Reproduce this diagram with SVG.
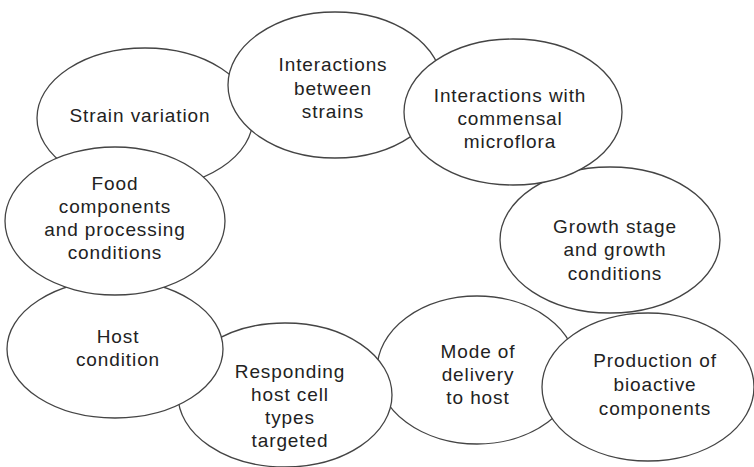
<svg xmlns="http://www.w3.org/2000/svg" width="754" height="467" viewBox="0 0 754 467">
<style>
.n ellipse{fill:#fff;stroke:#444;stroke-width:1.3}
.n text{font-family:"Liberation Sans",Arial,sans-serif;font-size:19px;letter-spacing:0.9px;fill:#222;text-anchor:middle}
</style>
<rect width="754" height="467" fill="#fff"/>
<g id="connectors"></g>
<g id="growth" class="n"><ellipse cx="610" cy="240" rx="110" ry="73"/><text x="615" y="233">Growth stage</text><text x="615" y="256">and growth</text><text x="615" y="280">conditions</text></g>
<g id="strain" class="n"><ellipse cx="145" cy="118" rx="108" ry="70"/><text x="140" y="122">Strain variation</text></g>
<g id="between" class="n"><ellipse cx="335" cy="85" rx="107" ry="73"/><text x="333" y="71">Interactions</text><text x="333" y="95">between</text><text x="333" y="118">strains</text></g>
<g id="commensal" class="n"><ellipse cx="513" cy="112" rx="109" ry="73"/><text x="510" y="102">Interactions with</text><text x="510" y="125">commensal</text><text x="510" y="148">microflora</text></g>
<g id="mode" class="n"><ellipse cx="477" cy="370" rx="100" ry="74"/><text x="478" y="358">Mode of</text><text x="478" y="381">delivery</text><text x="478" y="404">to host</text></g>
<g id="production" class="n"><ellipse cx="648" cy="387" rx="106" ry="74"/><text x="655" y="367">Production of</text><text x="655" y="391">bioactive</text><text x="655" y="415">components</text></g>
<g id="responding" class="n"><ellipse cx="285" cy="395" rx="107" ry="72"/><text x="290" y="378">Responding</text><text x="290" y="401">host cell</text><text x="290" y="424">types</text><text x="290" y="447">targeted</text></g>
<g id="host" class="n"><ellipse cx="115" cy="349" rx="108" ry="69"/><text x="118" y="343">Host</text><text x="118" y="366">condition</text></g>
<g id="food" class="n"><ellipse cx="115" cy="221" rx="110" ry="74"/><text x="115" y="190">Food</text><text x="115" y="213">components</text><text x="115" y="236">and processing</text><text x="115" y="259">conditions</text></g>
</svg>
